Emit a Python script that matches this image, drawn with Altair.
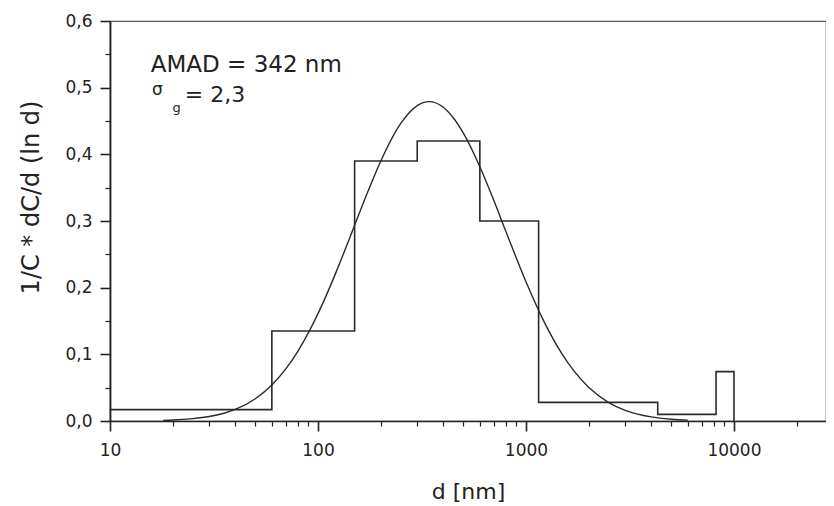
import altair as alt
import pandas as pd

# Histogram (step): left bin edge and bar height
bin_left = [10, 60, 150, 300, 600, 1150, 4300, 8200, 10000]
bin_height = [0.017, 0.135, 0.39, 0.42, 0.30, 0.028, 0.010, 0.074, 0.0]

# Fitted log-normal curve
curve_d = [18, 20, 25, 30, 35, 40, 50, 60, 70, 80, 90, 100, 120, 130, 150, 170, 200, 250, 300, 342,
           400, 450, 500, 600, 700, 800, 1000, 1200, 1300, 1500, 1700, 2000, 2500, 3000, 4000, 5000, 6000]
curve_y = [0.001, 0.0014, 0.0035, 0.0067, 0.0113, 0.0173, 0.0334, 0.0539, 0.0781, 0.1046, 0.1326, 0.161,
           0.2173, 0.2441, 0.2936, 0.3368, 0.3893, 0.4463, 0.4731, 0.479, 0.4706, 0.4537, 0.4317, 0.3814,
           0.331, 0.2846, 0.2089, 0.1539, 0.1325, 0.0991, 0.0751, 0.0506, 0.0277, 0.016, 0.0061, 0.0027, 0.0013]

x_major = [10, 100, 1000, 10000]
x_minor = [20, 30, 40, 50, 60, 70, 80, 90, 200, 300, 400, 500, 600, 700, 800, 900,
           2000, 3000, 4000, 5000, 6000, 7000, 8000, 9000, 20000]
y_major = [0.0, 0.1, 0.2, 0.3, 0.4, 0.5, 0.6]
y_minor = [0.05, 0.15, 0.25, 0.35, 0.45, 0.55]

ann_text = ["AMAD = 342 nm", "σ", "g", "= 2,3"]
ann_d = [15.7, 15.9, 20.0, 22.9]
ann_y = [0.524, 0.489, 0.4635, 0.479]
ann_size = [23, 17, 13, 22]

X_DOMAIN = [10, 27700]
FONT = "DejaVu Sans"
INK = "#222222"

hist_df = pd.DataFrame({"d": bin_left, "v": bin_height})
curve_df = pd.DataFrame({"d": curve_d, "v": curve_y})
ann_df = pd.DataFrame({"t": ann_text, "d": ann_d, "v": ann_y, "s": ann_size})

xscale = alt.Scale(type="log", domain=X_DOMAIN, nice=False)
yscale = alt.Scale(domain=[0, 0.6], nice=False, zero=False)

hist = alt.Chart(hist_df).mark_line(
    interpolate="step-after", color="#2a2a2a", strokeWidth=1.6
).encode(
    x=alt.X("d:Q", scale=xscale, axis=alt.Axis(
        orient="bottom", values=x_major, labelExpr="format(datum.value, 'd')",
        grid=False, tickSize=10, tickWidth=1.6, domainWidth=1.6, domainColor=INK, tickColor=INK,
        labelFont=FONT, labelFontSize=17, labelColor=INK, labelPadding=11, labelFlush=False,
        title="d [nm]", titleFont=FONT, titleFontSize=22, titleFontWeight="normal", titleColor=INK,
        titleY=77, titleBaseline="alphabetic")),
    y=alt.Y("v:Q", scale=yscale, axis=alt.Axis(
        orient="left", values=y_major,
        labelExpr="replace(format(datum.value, '.1f'), '.', ',')",
        grid=False, tickSize=10, tickWidth=1.6, domainWidth=1.8, domainColor=INK, tickColor=INK,
        labelFont=FONT, labelFontSize=17, labelColor=INK, labelPadding=8,
        title="1/C * dC/d (ln d)", titleFont=FONT, titleFontSize=24, titleFontWeight="normal",
        titleColor=INK, titleAngle=270, titleBaseline="bottom", titleAlign="center",
        titleX=-67, titleY=176)),
)

curve = alt.Chart(curve_df).mark_line(
    interpolate="monotone", color="#2a2a2a", strokeWidth=1.4
).encode(
    x=alt.X("d:Q", scale=xscale, axis=alt.Axis(
        orient="bottom", values=x_minor, labels=False, domain=False, grid=False,
        tickSize=5, tickWidth=1.2, tickColor=INK, title=None)),
    y=alt.Y("v:Q", scale=yscale, axis=alt.Axis(
        orient="left", values=y_minor, labels=False, domain=False, grid=False,
        tickSize=5, tickWidth=1.2, tickColor=INK, title=None)),
)

ann = alt.Chart(ann_df).mark_text(
    align="left", baseline="alphabetic", font=FONT, color=INK
).encode(
    x=alt.X("d:Q", scale=xscale, axis=None),
    y=alt.Y("v:Q", scale=yscale, axis=None),
    text="t:N",
    size=alt.Size("s:Q", scale=None, legend=None),
)

chart = alt.layer(hist, curve, ann).resolve_axis(
    x="independent", y="independent"
).properties(
    width=716, height=400,
    autosize=alt.AutoSizeParams(type="none"),
    padding={"left": 102, "top": 13, "right": 0, "bottom": 84},
    background="white",
).configure_view(stroke="#555555", strokeWidth=1.2)

chart.save("out.html", embed_options={"renderer": "svg", "actions": False})
